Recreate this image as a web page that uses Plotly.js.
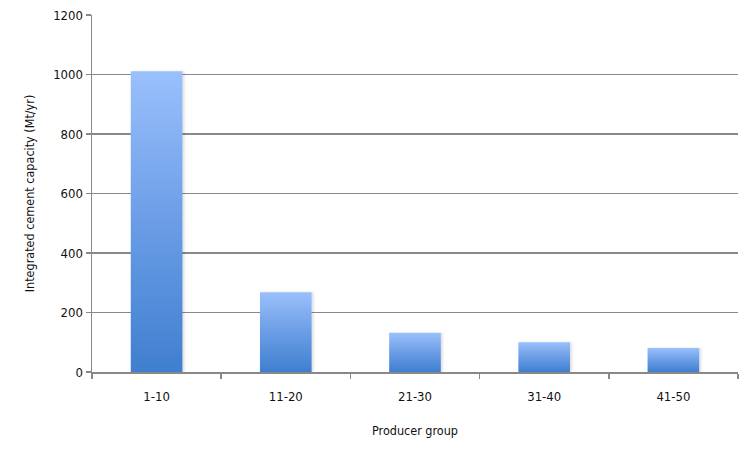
<!DOCTYPE html>
<html>
<head>
<meta charset="utf-8">
<script src="https://cdn.plot.ly/plotly-3.0.1.min.js"></script>
<style>
  html, body { margin: 0; padding: 0; background: #fff; }
  #chart { width: 750px; height: 449px; }
</style>
</head>
<body>
<div id="chart"></div>
<script>
const groups = ["1-10", "11-20", "21-30", "31-40", "41-50"];
const capacity = [1011, 268, 132, 100, 81];
const yTicks = [0, 200, 400, 600, 800, 1000, 1200];

const font = "'Liberation Sans Narrow', 'DejaVu Sans Condensed', 'Noto Sans', sans-serif";

const trace = {
  type: "bar",
  x: groups,
  y: capacity,
  marker: { color: "#6a9fe8", line: { width: 0 } },
  hoverinfo: "x+y",
};

const layout = {
  width: 750,
  height: 449,
  margin: { l: 92, r: 12, t: 15, b: 77 },
  paper_bgcolor: "#ffffff",
  plot_bgcolor: "#ffffff",
  bargap: 0.6,
  showlegend: false,
  font: { family: font, size: 13, color: "#111111" },
  xaxis: {
    type: "category",
    tickson: "boundaries",
    ticks: "outside",
    ticklen: 5,
    tickwidth: 1.5,
    tickcolor: "#888888",
    ticklabelstandoff: 12,
    showline: true,
    linecolor: "#888888",
    linewidth: 1.5,
    showgrid: false,
    tickfont: { family: font, size: 13 },
    title: { text: "Producer group", font: { family: font, size: 12.5 }, standoff: 23 },
    automargin: false,
  },
  yaxis: {
    range: [0, 1200],
    tickvals: yTicks,
    ticktext: yTicks.map(String),
    ticks: "outside",
    ticklen: 5,
    tickwidth: 1.5,
    tickcolor: "#888888",
    showline: true,
    linecolor: "#888888",
    linewidth: 1.5,
    showgrid: true,
    gridcolor: "#888888",
    gridwidth: 1.6,
    zeroline: false,
    tickfont: { family: font, size: 13 },
    title: { text: "Integrated cement capacity (Mt/yr)", font: { family: font, size: 12.5 }, standoff: 16 },
    automargin: false,
  },
};

function addGradient(gd) {
  const svg = gd.querySelector("svg.main-svg");
  const ns = "http://www.w3.org/2000/svg";
  let defs = svg.querySelector("defs");
  if (!defs) {
    defs = document.createElementNS(ns, "defs");
    svg.insertBefore(defs, svg.firstChild);
  }
  const grad = document.createElementNS(ns, "linearGradient");
  grad.setAttribute("id", "barGrad");
  grad.setAttribute("x1", "0");
  grad.setAttribute("y1", "0");
  grad.setAttribute("x2", "0");
  grad.setAttribute("y2", "1");
  [["0", "#9ac0fc"], ["0.5", "#6b9de6"], ["1", "#3f7fcf"]].forEach(([off, col]) => {
    const stop = document.createElementNS(ns, "stop");
    stop.setAttribute("offset", off);
    stop.setAttribute("stop-color", col);
    grad.appendChild(stop);
  });
  defs.appendChild(grad);

  const filter = document.createElementNS(ns, "filter");
  filter.setAttribute("id", "barShadow");
  filter.setAttribute("x", "-10%");
  filter.setAttribute("width", "130%");
  const shadow = document.createElementNS(ns, "feDropShadow");
  shadow.setAttribute("dx", "2");
  shadow.setAttribute("dy", "0");
  shadow.setAttribute("stdDeviation", "1");
  shadow.setAttribute("flood-color", "#000");
  shadow.setAttribute("flood-opacity", "0.12");
  filter.appendChild(shadow);
  defs.appendChild(filter);

  gd.querySelectorAll(".bars .point path").forEach((p) => {
    p.style.fill = "url(#barGrad)";
    p.setAttribute("filter", "url(#barShadow)");
  });
}

Plotly.newPlot("chart", [trace], layout, { displayModeBar: false, staticPlot: true })
  .then(addGradient)
  .catch((err) => console.error(err));
</script>
</body>
</html>
